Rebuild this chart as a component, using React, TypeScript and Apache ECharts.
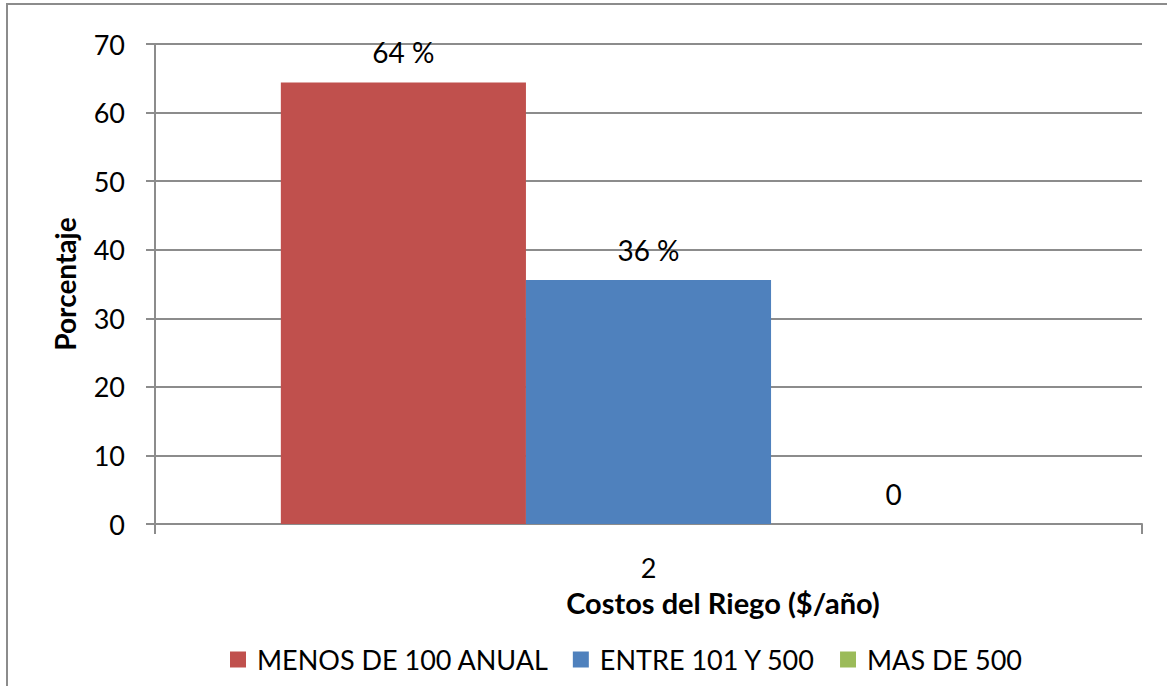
import React, { useEffect, useRef } from "react";
import * as echarts from "echarts";

const categories = ["2"];
const seriesNames = ["MENOS DE 100 ANUAL", "ENTRE 101 Y 500", "MAS DE 500"];
const seriesValues = [[64.4], [35.6], [0]];
const seriesColors = ["#C0504D", "#4F81BD", "#9BBB59"];
const yTicks = { min: 0, max: 70, interval: 10 };

const FONT = "Lato";
const GRID_COLOR = "#8c8c8c";

export default function App() {
  const ref = useRef<HTMLDivElement>(null);
  useEffect(() => {
    document.body.style.margin = "0";
    const chart = echarts.init(ref.current!, null, { renderer: "svg" });
    chart.setOption({
      animation: false,
      backgroundColor: "#ffffff",
      textStyle: { fontFamily: FONT },
      grid: { left: 155, right: 25, top: 44, bottom: 162 },
      legend: {
        left: 225,
        top: 641,
        icon: "rect",
        itemWidth: 16,
        itemHeight: 16,
        itemGap: 24,
        textStyle: { fontFamily: FONT, fontSize: 27, color: "#000", padding: [0, 0, 0, 6] },
        data: seriesNames,
      },
      xAxis: {
        type: "category",
        data: categories,
        axisLine: { lineStyle: { color: GRID_COLOR, width: 2 } },
        axisTick: { show: true, length: 10, lineStyle: { color: GRID_COLOR, width: 2 } },
        axisLabel: { fontFamily: FONT, fontSize: 27, color: "#000", margin: 30 },
      },
      yAxis: {
        type: "value",
        min: yTicks.min,
        max: yTicks.max,
        interval: yTicks.interval,
        axisLine: { show: true, lineStyle: { color: GRID_COLOR, width: 2 } },
        axisTick: { show: true, length: 9, lineStyle: { color: GRID_COLOR, width: 2 } },
        axisLabel: { fontFamily: FONT, fontSize: 27, color: "#000", margin: 30 },
        splitLine: { lineStyle: { color: GRID_COLOR, width: 2 } },
        name: "Porcentaje",
        nameLocation: "middle",
        nameGap: 76,
        nameRotate: 90,
        nameTextStyle: { fontFamily: FONT, fontSize: 28, fontWeight: "bold", color: "#000" },
      },
      graphic: [
        {
          type: "rect",
          shape: { x: 7, y: 4, width: 1300, height: 800 },
          style: { fill: "none", stroke: GRID_COLOR, lineWidth: 2 },
          silent: true,
        },
        {
          type: "text",
          x: 723,
          y: 602,
          style: {
            text: "Costos del Riego ($/año)",
            fontFamily: FONT,
            fontSize: 29,
            fontWeight: "bold",
            fill: "#000",
            align: "center",
            verticalAlign: "middle",
          },
        },
      ],
      series: seriesNames.map((name, i) => ({
        name,
        type: "bar",
        data: seriesValues[i],
        barGap: "0%",
        barCategoryGap: "25.5%",
        itemStyle: { color: seriesColors[i] },
        label: {
          show: true,
          position: "top",
          distance: 16,
          fontFamily: FONT,
          fontSize: 28,
          color: "#000",
          formatter: (p: any) => (p.value === 0 ? "0" : Math.round(p.value) + " %"),
        },
      })),
    });
    return () => chart.dispose();
  }, []);
  return <div ref={ref} style={{ position: "fixed", left: 0, top: 0, width: 1167, height: 686 }} />;
}
